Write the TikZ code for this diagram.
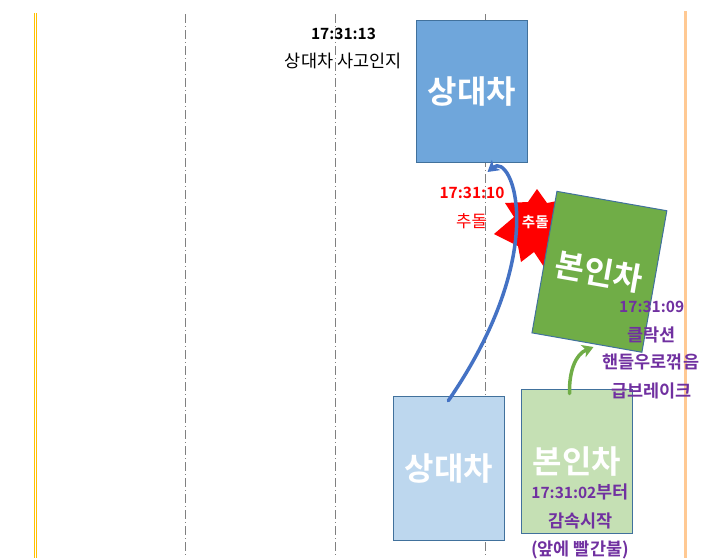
\documentclass[tikz,border=0pt]{standalone}
\usepackage{fontspec}
\setmainfont{Noto Sans CJK KR}[BoldFont={Noto Sans CJK KR Bold}]
\usetikzlibrary{arrows.meta}
\definecolor{boxblue}{HTML}{6FA6DB}
\definecolor{lightblue}{HTML}{BDD7EE}
\definecolor{lightgreen}{HTML}{C5E0B4}
\definecolor{carGreen}{HTML}{70AD47}
\definecolor{edgeblue}{HTML}{41719C}
\definecolor{purp}{HTML}{7030A0}
\definecolor{arrowblue}{HTML}{4472C4}
\definecolor{laneyellow}{HTML}{FFC000}
\definecolor{laneorange}{HTML}{FFC993}
\definecolor{lanegrey}{HTML}{808080}
\newcommand{\kr}{\fontsize{17.5}{20}\selectfont}
\begin{document}
\begin{tikzpicture}[x=1pt,y=-1pt,
  every node/.style={inner sep=0pt, outer sep=0pt},
  carbox/.style={draw=edgeblue, line width=1pt, minimum width=111pt, minimum height=143pt, text=white, font=\fontsize{32}{36}\selectfont\bfseries},
  lbl/.style={font=\fontsize{17.5}{20}\selectfont},
  blbl/.style={font=\fontsize{17.5}{20}\selectfont\bfseries},
  nlbl/.style={font=\fontsize{15.5}{18}\selectfont\bfseries},
  lane/.style={lanegrey, line width=0.9pt, dash pattern=on 9pt off 3pt on 1pt off 3pt},
  movearrow/.style={line width=3.5pt, line cap=round}
]
\useasboundingbox (0,0) rectangle (708,558);
% lanes
\draw[laneyellow, line width=1.2pt] (34.3,13) -- (34.3,558);
\draw[laneyellow, line width=1.2pt] (36.6,13) -- (36.6,558);
\draw[laneorange, line width=2.8pt] (685.3,11) -- (685.3,558);
\draw[lane] (185.3,14) -- (185.3,558);
\draw[lane] (335.3,14) -- (335.3,558);
\draw[lane] (485.6,14) -- (485.6,558);

% top other car
\node[carbox, fill=boxblue, minimum width=111.5pt, minimum height=142.5pt] (otherTop) at (471.8,91.3) {상대차};
\node[nlbl, text=black] (t13) at (343.5,33.5) {17:31:13};
\node[lbl, text=black] (t13b) at (343.3,61) {상대차 사고인지};

% explosion
\fill[red] (537,189) -- (547,203) -- (562,200) -- (556,230) -- (560,255) -- (546,270) -- (534,252) -- (521,262) -- (518,246) -- (494,234) -- (514,217) -- (505,203) -- (528,202) -- cycle;
\node[nlbl, text=red] (t10) at (472,193) {17:31:10};
\node[font=\fontsize{16.8}{19}\selectfont, text=red] (t10b) at (471.5,221.5) {추돌};

% rotated own car
\node[carbox, fill=carGreen, rotate=-10, minimum width=111.6pt, minimum height=143.7pt] (ownRot) at (599.4,271.8) {본인차};

% bottom boxes
\node[carbox, fill=lightblue, minimum width=111pt, minimum height=144.3pt] (otherBot) at (448.8,468.2) {상대차};
\node[carbox, fill=lightgreen, minimum width=111pt, minimum height=144pt] (ownBot) at (576.8,461.3) {};
\node[font=\fontsize{32}{36}\selectfont\bfseries, text=white] (ownBotTxt) at (577,461.7) {본인차};
\node[nlbl, text=purp] (t02) at (580,492) {17:31:02{\kr 부터}};
\node[blbl, text=purp] (t02b) at (580.5,520.5) {감속시작};
\node[blbl, text=purp] (t02c) at (580,549.5) {(앞에 빨간불)};

% purple notes
\node[nlbl, text=purp] (t09) at (651.7,306.5) {17:31:09};
\node[blbl, text=purp] (t09a) at (651.3,335) {클락션};
\node[blbl, text=purp] (t09b) at (650.8,361.5) {핸들우로꺾음};
\node[blbl, text=purp] (t09c) at (651.7,391) {급브레이크};

% arrows
\coordinate (bS) at (448.3,400.7);
\coordinate (bE) at (487.5,172);
\draw[movearrow, arrowblue, -{Stealth[length=11pt,width=13pt,inset=3pt]}]
  (bS) .. controls (552,250) and (512,152) .. (bE);
\coordinate (gS) at (569.5,393.5);
\coordinate (gE) at (593.5,347);
\draw[movearrow, carGreen, -{Stealth[length=11pt,width=13pt,inset=3pt]}]
  (gS) .. controls (569,370) and (576,354) .. (gE);
\node[font=\fontsize{14.5}{16}\selectfont\bfseries, text=white] (boomtxt) at (535.3,221.7) {추돌};
\end{tikzpicture}
\end{document}
